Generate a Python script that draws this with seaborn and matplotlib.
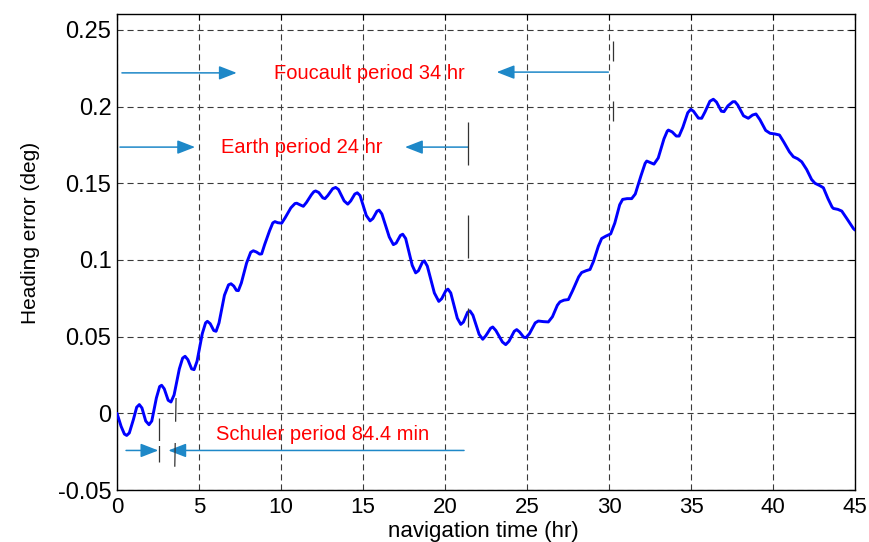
import numpy as np
import pandas as pd
import seaborn as sns
import matplotlib
matplotlib.use("Agg")
import matplotlib.pyplot as plt
from matplotlib.patches import FancyArrowPatch

# Heading error over a 45 hour navigation run (hr, deg)
time_hr = [
    0.00, 0.25, 0.45, 0.59, 0.75, 1.00, 1.20, 1.36, 1.52, 1.75,
    1.95, 2.12, 2.40, 2.60, 2.72, 2.88, 3.12, 3.29, 3.48, 3.80,
    4.00, 4.15, 4.32, 4.55, 4.70, 4.88, 5.20, 5.40, 5.51, 5.68,
    5.90, 6.04, 6.22, 6.55, 6.80, 6.95, 7.12, 7.28, 7.40, 7.58,
    7.90, 8.15, 8.31, 8.50, 8.70, 8.82, 9.00, 9.30, 9.50, 9.63,
    9.80, 10.04, 10.25, 10.60, 10.85, 10.96, 11.15, 11.36, 11.55, 11.85,
    12.00, 12.11, 12.30, 12.55, 12.68, 12.85, 13.15, 13.33, 13.50, 13.85,
    14.07, 14.25, 14.50, 14.65, 14.82, 15.20, 15.43, 15.60, 15.85, 15.98,
    16.15, 16.60, 16.85, 17.02, 17.28, 17.42, 17.60, 18.00, 18.21, 18.38,
    18.62, 18.74, 18.92, 19.35, 19.62, 19.80, 20.05, 20.18, 20.35, 20.75,
    20.96, 21.12, 21.38, 21.52, 21.70, 22.08, 22.30, 22.48, 22.78, 22.91,
    23.10, 23.50, 23.70, 23.90, 24.22, 24.37, 24.55, 24.80, 24.94, 25.15,
    25.50, 25.69, 26.00, 26.30, 26.55, 26.85, 27.01, 27.25, 27.52, 27.78,
    28.15, 28.33, 28.60, 28.84, 29.05, 29.35, 29.55, 29.80, 30.10, 30.35,
    30.65, 30.83, 31.10, 31.38, 31.60, 31.95, 32.20, 32.30, 32.52, 32.74,
    33.00, 33.35, 33.55, 33.62, 33.85, 34.10, 34.27, 34.50, 34.80, 34.98,
    35.15, 35.45, 35.65, 35.85, 36.15, 36.36, 36.55, 36.85, 37.01, 37.25,
    37.55, 37.68, 37.85, 38.20, 38.49, 38.75, 38.96, 39.20, 39.55, 39.82,
    40.10, 40.39, 40.65, 41.00, 41.24, 41.50, 41.75, 42.05, 42.35, 42.56,
    42.85, 43.07, 43.35, 43.60, 43.68, 43.95, 44.19, 44.50, 44.90, 45.00,
]
heading_err = [
    0.0000, -0.0085, -0.0135, -0.0144, -0.0128, -0.0040, 0.0040, 0.0057, 0.0035, -0.0050,
    -0.0074, -0.0050, 0.0100, 0.0175, 0.0183, 0.0160, 0.0085, 0.0074, 0.0120, 0.0290,
    0.0360, 0.0372, 0.0350, 0.0290, 0.0285, 0.0340, 0.0520, 0.0590, 0.0600, 0.0585,
    0.0540, 0.0535, 0.0590, 0.0770, 0.0838, 0.0845, 0.0830, 0.0802, 0.0800, 0.0850,
    0.0980, 0.1050, 0.1060, 0.1052, 0.1038, 0.1040, 0.1100, 0.1190, 0.1242, 0.1250,
    0.1243, 0.1240, 0.1275, 0.1340, 0.1368, 0.1370, 0.1360, 0.1350, 0.1375, 0.1425,
    0.1445, 0.1450, 0.1440, 0.1405, 0.1400, 0.1420, 0.1465, 0.1473, 0.1460, 0.1385,
    0.1364, 0.1385, 0.1430, 0.1438, 0.1420, 0.1290, 0.1255, 0.1270, 0.1318, 0.1325,
    0.1300, 0.1150, 0.1100, 0.1110, 0.1160, 0.1168, 0.1140, 0.0965, 0.0916, 0.0930,
    0.0985, 0.0994, 0.0960, 0.0785, 0.0730, 0.0748, 0.0800, 0.0810, 0.0785, 0.0620,
    0.0580, 0.0595, 0.0660, 0.0668, 0.0640, 0.0515, 0.0483, 0.0505, 0.0555, 0.0563,
    0.0540, 0.0465, 0.0448, 0.0470, 0.0535, 0.0546, 0.0530, 0.0496, 0.0494, 0.0520,
    0.0590, 0.0602, 0.0598, 0.0596, 0.0630, 0.0705, 0.0727, 0.0738, 0.0742, 0.0800,
    0.0890, 0.0918, 0.0930, 0.0938, 0.0990, 0.1090, 0.1140, 0.1155, 0.1170, 0.1240,
    0.1360, 0.1395, 0.1400, 0.1400, 0.1430, 0.1550, 0.1630, 0.1645, 0.1635, 0.1625,
    0.1665, 0.1790, 0.1840, 0.1847, 0.1835, 0.1808, 0.1808, 0.1865, 0.1960, 0.1982,
    0.1970, 0.1925, 0.1924, 0.1965, 0.2035, 0.2048, 0.2030, 0.1970, 0.1967, 0.2005,
    0.2032, 0.2032, 0.2010, 0.1940, 0.1924, 0.1945, 0.1952, 0.1915, 0.1845, 0.1826,
    0.1822, 0.1815, 0.1770, 0.1705, 0.1673, 0.1660, 0.1640, 0.1590, 0.1525, 0.1500,
    0.1485, 0.1471, 0.1400, 0.1345, 0.1336, 0.1330, 0.1319, 0.1270, 0.1205, 0.1195,
]

x_ticks = [0, 5, 10, 15, 20, 25, 30, 35, 40, 45]
y_ticks = [-0.05, 0, 0.05, 0.1, 0.15, 0.2, 0.25]
y_tick_labels = ["-0.05", "0", "0.05", "0.1", "0.15", "0.2", "0.25"]

sns.set_style("white")
plt.rcParams["font.family"] = ["Liberation Sans", "DejaVu Sans"]

fig = plt.figure(figsize=(8.7, 5.42), dpi=100)
ax = fig.add_axes([0.1345, 0.0959, 0.8483, 0.8783])

df = pd.DataFrame({"t": time_hr, "err": heading_err})
sns.lineplot(data=df, x="t", y="err", ax=ax, color="#0000FF", linewidth=2.1,
             solid_joinstyle="round", solid_capstyle="round", zorder=3)

ax.set_xlim(0, 45)
ax.set_ylim(-0.05, 0.2604)
ax.set_xticks(x_ticks)
ax.set_xticklabels([str(v) for v in x_ticks])
ax.set_yticks(y_ticks)
ax.set_yticklabels(y_tick_labels)
ax.tick_params(direction="in", length=4, width=0.8, top=True, right=True,
               colors="black")
ax.tick_params(axis="x", labelsize=16, pad=5)
ax.tick_params(axis="y", labelsize=17, pad=4)
ax.grid(True, color="#3a3a3a", linestyle=(0, (5.5, 3.5)), linewidth=0.8)
for s in ax.spines.values():
    s.set_color("black")
    s.set_linewidth(1.0)
ax.set_xlabel("navigation time (hr)", fontsize=16, color="black")
ax.xaxis.set_label_coords(0.497, -0.066)
ax.set_ylabel("Heading error (deg)", fontsize=15, color="black")
ax.yaxis.set_label_coords(-0.104, 0.54)

arrow_c = "#1E88C8"
txt_c = "#FF0000"


def arrow(x0, y0, x1, y1):
    ax.add_patch(FancyArrowPatch((x0, y0), (x1, y1),
                                 arrowstyle="-|>,head_length=0.9,head_width=0.35",
                                 color=arrow_c, linewidth=1.1, mutation_scale=12,
                                 shrinkA=0, shrinkB=0, zorder=4))


# Foucault period
arrow(0.30, 0.2220, 7.30, 0.2220)
arrow(29.96, 0.2225, 23.15, 0.2225)
ax.text(15.37, 0.2218, "Foucault period 34 hr", color=txt_c, fontsize=14.5,
        ha="center", va="center", zorder=5)
ax.plot([30.27, 30.27], [0.243, 0.190], color="#333333", linewidth=0.9,
        linestyle=(0, (16, 32)), zorder=4)

# Earth period
arrow(0.18, 0.1736, 4.76, 0.1736)
arrow(21.42, 0.1736, 17.56, 0.1736)
ax.text(11.25, 0.1736, "Earth period 24 hr", color=txt_c, fontsize=14.5,
        ha="center", va="center", zorder=5)
ax.plot([21.42, 21.42], [0.190, 0.056], color="#333333", linewidth=0.9,
        linestyle=(0, (34.4, 40)), zorder=4)

# Schuler period
arrow(0.55, -0.0242, 2.52, -0.0242)
arrow(21.16, -0.0242, 3.13, -0.0242)
ax.text(12.56, -0.0137, "Schuler period 84.4 min", color=txt_c, fontsize=14.5,
        ha="center", va="center", zorder=5)
ax.plot([2.57, 2.57], [-0.003, -0.032], color="#333333", linewidth=0.9,
        linestyle=(0, (18, 4)), zorder=4)
ax.plot([3.60, 3.52], [0.010, -0.036], color="#333333", linewidth=0.9,
        linestyle=(0, (19, 17)), zorder=4)

fig.savefig("out.png", dpi=100)
